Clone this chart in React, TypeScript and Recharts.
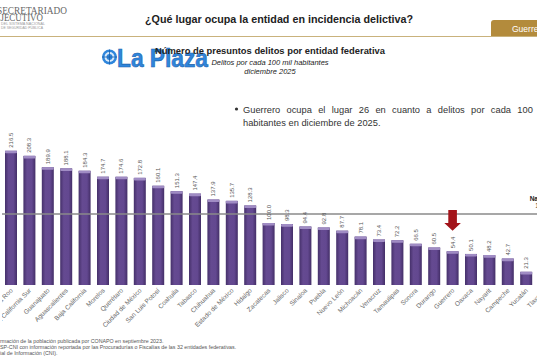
import React from 'react';
import { BarChart, Bar, XAxis, YAxis, ReferenceLine, LabelList } from 'recharts';

const categories = [
  'Quintana Roo', 'Baja California Sur', 'Guanajuato', 'Aguascalientes', 'Baja California',
  'Morelos', 'Querétaro', 'Ciudad de México', 'San Luis Potosí', 'Coahuila',
  'Tabasco', 'Chihuahua', 'Estado de México', 'Hidalgo', 'Zacatecas',
  'Jalisco', 'Sinaloa', 'Puebla', 'Nuevo León', 'Michoacán',
  'Veracruz', 'Tamaulipas', 'Sonora', 'Durango', 'Guerrero',
  'Oaxaca', 'Nayarit', 'Campeche', 'Yucatán', 'Tlaxcala',
];
const values = [
  216.5, 208.3, 189.9, 188.1, 184.3,
  174.7, 174.6, 172.8, 160.1, 151.3,
  147.4, 137.9, 135.7, 128.3, 100.0,
  98.3, 94.4, 92.8, 87.7, 78.1,
  73.4, 72.2, 66.5, 60.5, 54.4,
  50.1, 48.2, 42.7, 21.3, 14.9,
];
const nationalValue = 114.6;
const nationalLabel = 'Nacional';
const highlighted = 'Guerrero';

const data = categories.map((name, i) => ({ name, value: values[i] }));

const BarShape = (props: any) => {
  const { x, y, width, height } = props;
  if (!height || height <= 0) return null;
  return (
    <g>
      <rect x={x} y={y} width={width} height={height} fill="url(#barGrad)" />
      <rect x={x} y={y} width={width} height={Math.min(2.6, height)} rx={1} fill="#a08cc4" />
    </g>
  );
};

const ValueLabel = (props: any) => {
  const { x, y, width, value, index } = props;
  const cx = x + width / 2;
  const isHi = categories[index] === highlighted;
  const tip = y - 20.6;
  return (
    <g>
      <text
        transform={`translate(${cx + 2},${y - 3}) rotate(-90)`}
        textAnchor="start"
        fontSize={6}
        fill="#555"
        fontFamily="Liberation Sans, Arial, sans-serif"
      >
        {Number(value).toFixed(1)}
      </text>
      {isHi && (
        <path
          d={`M${cx - 4.3},${tip - 20.7} L${cx + 4.3},${tip - 20.7} L${cx + 4.3},${tip - 7.7} L${cx + 8.3},${tip - 7.7} L${cx},${tip} L${cx - 8.3},${tip - 7.7} L${cx - 4.3},${tip - 7.7} Z`}
          fill="#a3141a"
        />
      )}
    </g>
  );
};

const XTick = (props: any) => {
  const { x, y, payload } = props;
  return (
    <text
      transform={`translate(${x + 2},${y + 6}) rotate(-45)`}
      textAnchor="end"
      fontSize={6.5}
      fill="#666"
      fontFamily="Liberation Sans, Arial, sans-serif"
    >
      {payload.value}
    </text>
  );
};

const NationalLabel = (props: any) => {
  const { viewBox } = props;
  const vx = viewBox.x;
  const vy = viewBox.y;
  return (
    <g fontFamily="Liberation Sans, Arial, sans-serif">
      <text x={vx + 541.2} y={vy - 12.5} textAnchor="middle" fontSize={6.5} fontWeight="bold" fill="#222">
        {nationalLabel}
      </text>
      <text x={vx + 541.2} y={vy - 5.5} textAnchor="middle" fontSize={6.5} fill="#333">
        {nationalValue.toFixed(1)}
      </text>
    </g>
  );
};

export default function App() {
  const font = 'Liberation Sans, Arial, sans-serif';
  return (
    <div
      style={{
        position: 'absolute',
        left: 0,
        top: 0,
        width: 537,
        height: 360,
        overflow: 'hidden',
        background: '#ffffff',
        fontFamily: font,
      }}
    >
      <div style={{ position: 'absolute', left: 1.8, top: 100 }}>
        <BarChart
          width={552}
          height={245}
          data={data}
          margin={{ top: 30, right: 0, bottom: 0, left: 0 }}
          barSize={12}
        >
          <defs>
            <linearGradient id="barGrad" x1="0" y1="0" x2="1" y2="0">
              <stop offset="0%" stopColor="#45306a" />
              <stop offset="30%" stopColor="#654a91" />
              <stop offset="70%" stopColor="#634890" />
              <stop offset="100%" stopColor="#432e67" />
            </linearGradient>
          </defs>
          <YAxis hide domain={[0, 250]} type="number" />
          <XAxis
            dataKey="name"
            interval={0}
            tick={<XTick />}
            tickLine={false}
            axisLine={false}
            tickSize={0}
            tickMargin={0}
            height={60}
          />
          <ReferenceLine y={nationalValue} stroke="#8a8a8a" strokeWidth={1.6} label={<NationalLabel />} />
          <Bar dataKey="value" shape={<BarShape />} isAnimationActive={false}>
            <LabelList dataKey="value" content={<ValueLabel />} />
          </Bar>
        </BarChart>
      </div>

      <svg
        width={537}
        height={360}
        style={{ position: 'absolute', left: 0, top: 0, pointerEvents: 'none' }}
      >
        {/* header logo */}
        <g fontFamily="Liberation Serif, DejaVu Serif, serif" fill="#666">
          <text x={-3} y={13.5} fontSize={9.5} textLength={70} lengthAdjust="spacingAndGlyphs">SECRETARIADO</text>
          <text x={-5} y={20.5} fontSize={9.5} textLength={48} lengthAdjust="spacingAndGlyphs">EJECUTIVO</text>
        </g>
        <g fontFamily={font} fill="#9a9a9a">
          <text x={1} y={24.5} fontSize={3} textLength={44} lengthAdjust="spacingAndGlyphs">DEL SISTEMA NACIONAL</text>
          <text x={1} y={28.5} fontSize={3} textLength={42} lengthAdjust="spacingAndGlyphs">DE SEGURIDAD PÚBLICA</text>
        </g>

        {/* title */}
        <text x={145} y={22.5} fontSize={10} fontWeight="bold" fill="#222" fontFamily={font} textLength={268} lengthAdjust="spacingAndGlyphs">
          ¿Qué lugar ocupa la entidad en incidencia delictiva?
        </text>

        {/* gold rule and tab */}
        <line x1={0} y1={36.5} x2={537} y2={36.5} stroke="#c9b27c" strokeWidth={1} />
        <path d="M491,36 L491,23 Q491,20 494,20 L540,20 L540,36 Z" fill="#b38b3c" />
        <text x={512} y={31.5} fontSize={8.5} fill="#ffffff" fontFamily={font}>Guerrero</text>

        {/* La Plaza logo */}
        <g>
          <circle cx={109.5} cy={57} r={7.5} fill="#2f86dc" />
          <circle cx={109.5} cy={57} r={5} fill="#dcebfa" />
          <circle cx={109.5} cy={57} r={3} fill="#2f86dc" />
          <line x1={102} y1={57} x2={117} y2={57} stroke="#1c5fa8" strokeWidth={0.8} />
          <line x1={109.5} y1={49.5} x2={109.5} y2={64.5} stroke="#1c5fa8" strokeWidth={0.8} />
          <text x={117} y={66.5} fontSize={26} fontWeight="bold" fill="#2f86dc" stroke="#1f63ad" strokeWidth={0.6} fontFamily={font} textLength={91} lengthAdjust="spacingAndGlyphs">
            La Plaza
          </text>
        </g>

        {/* chart title */}
        <text x={155} y={54} fontSize={8.5} fontWeight="bold" fill="#222" fontFamily={font} textLength={230} lengthAdjust="spacingAndGlyphs">
          Número de presuntos delitos por entidad federativa
        </text>
        <text x={270} y={64.5} fontSize={7.5} fontStyle="italic" fill="#222" textAnchor="middle" fontFamily={font}>
          Delitos por cada 100 mil habitantes
        </text>
        <text x={270} y={73.5} fontSize={7.5} fontStyle="italic" fill="#222" textAnchor="middle" fontFamily={font}>
          diciembre 2025
        </text>

        {/* bullet */}
        <circle cx={236.5} cy={109} r={1.6} fill="#333" />
        <text x={243} y={112.5} fontSize={9.3} fill="#333" fontFamily={font} style={{ wordSpacing: '3.75px' }}>
          Guerrero ocupa el lugar 26 en cuanto a delitos por cada 100 mil
        </text>
        <text x={243} y={125.5} fontSize={9.3} fill="#333" fontFamily={font}>
          habitantes en diciembre de 2025.
        </text>

        {/* footnotes */}
        <g fontFamily={font} fontSize={5.3} fill="#555">
          <text x={0} y={343}>rmación de la población publicada por CONAPO en septiembre 2023.</text>
          <text x={0} y={349}>SP-CNI con información reportada por las Procuradurías o Fiscalías de las 32 entidades federativas.</text>
          <text x={0} y={355}>ial de Información (CNI).</text>
        </g>
      </svg>
    </div>
  );
}
